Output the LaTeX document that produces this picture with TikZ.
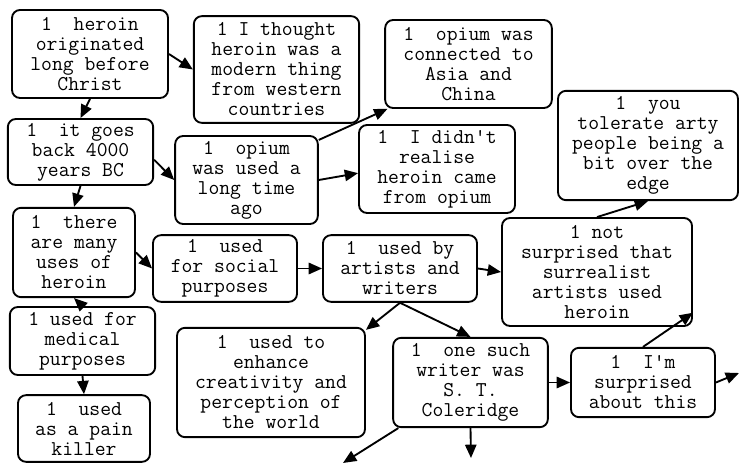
\documentclass[tikz,border=0pt]{standalone}
\usepackage{fontspec}
\usepackage{tikz}
\usetikzlibrary{arrows.meta}

\begin{document}
\begin{tikzpicture}[x=0.75pt, y=-0.75pt,
    note/.style={draw, line width=1.4pt, rounded corners=6pt, align=center,
                 inner sep=0pt, font=\ttfamily\fontsize{15.8}{15}\selectfont},
    link/.style={line width=1.4pt, -{Triangle[length=10pt,width=8.5pt]}}]
    \useasboundingbox (0,0) rectangle (739,463);
    % top rows
    \node[note, minimum width=117pt, minimum height=66pt] (christ) at (90,54)
         {1~~heroin\\originated\\long before\\Christ};
    \node[note, minimum width=124pt, minimum height=80pt] (modern) at (276.5,69.5)
         {1 I thought\\heroin was a\\modern thing\\from western\\countries};
    \node[note, minimum width=109pt, minimum height=49.5pt] (bc) at (80.5,152)
         {1~~it goes\\back 4000\\years BC};
    \node[note, minimum width=107pt, minimum height=66pt] (longago) at (246.5,180)
         {1~~opium\\was used a\\long time\\ago};
    \node[note, minimum width=125pt, minimum height=66pt] (asia) at (468.5,64)
         {1~~opium was\\connected to\\Asia and\\China};
    \node[note, minimum width=117pt, minimum height=66pt] (fromopium) at (437,169)
         {1~~I didn't\\realise\\heroin came\\from opium};
    \node[note, minimum width=135pt, minimum height=82pt] (arty) at (648,145.5)
         {1~~you\\tolerate arty\\people being a\\bit over the\\edge};
    % middle row
    \node[note, minimum width=91.5pt, minimum height=67pt] (uses) at (74,252.5)
         {1~~there\\are many\\uses of\\heroin};
    \node[note, minimum width=108pt, minimum height=50pt] (social) at (225,268.5)
         {1~~used\\for social\\purposes};
    \node[note, minimum width=115.5pt, minimum height=50pt] (artists) at (400,268.5)
         {1~~used by\\artists and\\writers};
    \node[note, minimum width=142.5pt, minimum height=81pt] (surreal) at (597,272)
         {1 not\\surprised that\\surrealist\\artists used\\heroin};
    % bottom rows
    \node[note, minimum width=109pt, minimum height=51pt] (medical) at (82.5,341)
         {1 used for\\medical\\purposes};
    \node[note, minimum width=99pt, minimum height=50pt] (painkiller) at (84,428.5)
         {1~~used\\as a pain\\killer};
    \node[note, minimum width=141pt, minimum height=82pt] (creativity) at (271,382.5)
         {1~~used to\\enhance\\creativity and\\perception of\\the world};
    \node[note, minimum width=116pt, minimum height=67pt] (coleridge) at (470.5,382.5)
         {1~~one such\\writer was\\S. T.\\Coleridge};
    \node[note, minimum width=108pt, minimum height=52pt] (surprised) at (643,382.5)
         {1~~I'm\\surprised\\about this};
    \coordinate (offright) at (739,373);
    \coordinate (offdown) at (471,458);
    \coordinate (offleft) at (343,463);

    \draw[link] (christ.east) -- (modern.west);
    \draw[link] (christ.south) -- (bc.north);
    \draw[link] (bc.-6) -- (longago.west);
    \draw[link] (bc.south) -- (uses.north);
    \draw[link] (longago.29) -- (asia.209);
    \draw[link] (longago.east) -- (fromopium.183);
    \draw[link] (uses.east) -- (social.west);
    \draw[link] (medical.north) -- (uses.south);
    \draw[link] (medical.south) -- (painkiller.north);
    \draw[link] (social.east) -- (artists.west);
    \draw[link] (artists.east) -- (surreal.west);
    \draw[link] (artists.south) -- (creativity.29);
    \draw[link] (artists.south) -- (coleridge.north);
    \draw[link] (surreal.north) -- (arty.south);
    \draw[link] (coleridge.east) -- (surprised.west);
    \draw[link] (surprised.north) -- (surreal.-23);
    \draw[link] (surprised.east) -- (offright);
    \draw[link] (coleridge) -- (offleft);
    \draw[link] (coleridge.south) -- (offdown);
  \end{tikzpicture}
\end{document}
